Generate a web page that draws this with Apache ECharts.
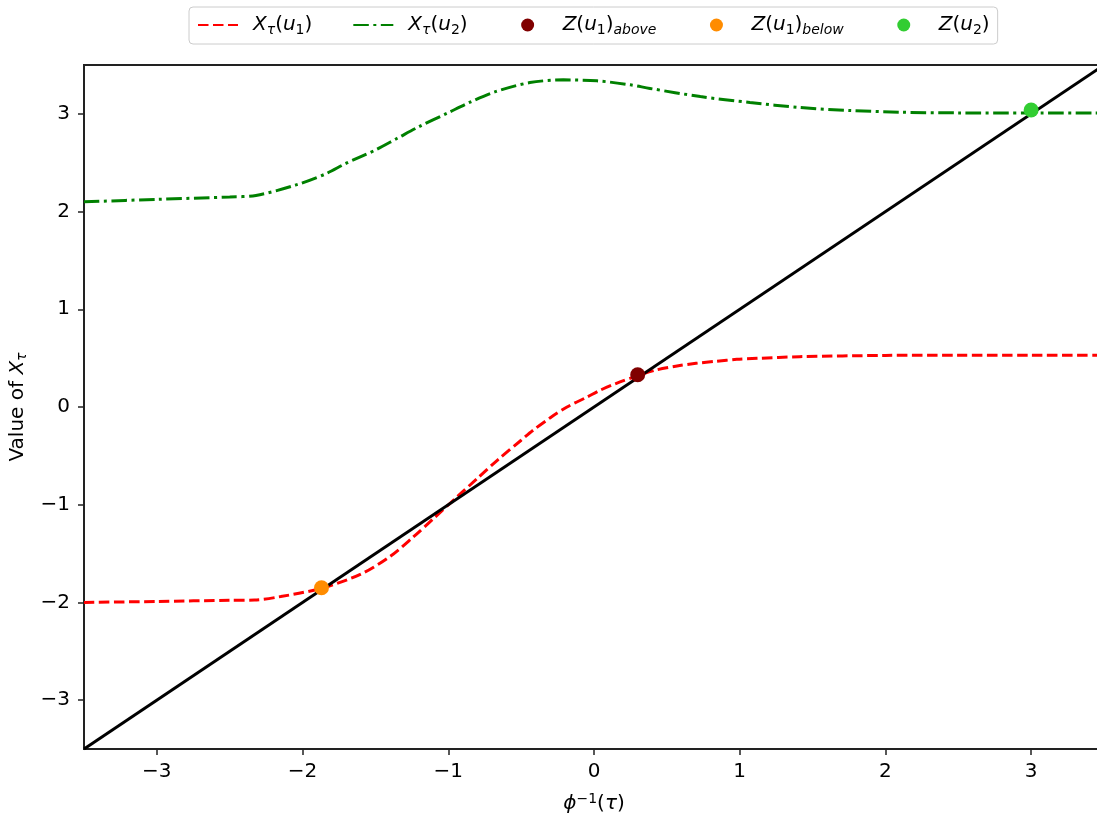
<!DOCTYPE html>
<html>
<head>
<meta charset="utf-8">
<script src="https://cdn.jsdelivr.net/npm/echarts@6/dist/echarts.min.js"></script>
<style>
html, body { margin: 0; padding: 0; background: #fff; }
#chart { width: 1097px; height: 818px; }
</style>
</head>
<body>
<div id="chart"></div>
<script>
// Quantile curve X_tau(u1)
const u1Tau = [-3.5, -3.0, -2.5, -2.33, -2.15, -1.87, -1.6, -1.4, -1.24, -1.1, -0.94, -0.8, -0.66, -0.5, -0.42, -0.3, -0.185, -0.05, 0.04, 0.15, 0.3, 0.43, 0.57, 0.70, 0.84, 0.98, 1.12, 1.41, 2.0, 2.5, 3.0, 3.5];
const u1Val = [-2.0, -1.99, -1.978, -1.975, -1.94, -1.855, -1.71, -1.53, -1.33, -1.14, -0.92, -0.73, -0.54, -0.34, -0.24, -0.11, 0.0, 0.10, 0.17, 0.24, 0.32, 0.38, 0.42, 0.447, 0.468, 0.488, 0.498, 0.515, 0.528, 0.53, 0.53, 0.53];

// Quantile curve X_tau(u2)
const u2Tau = [-3.5, -3.0, -2.5, -2.32, -2.05, -1.85, -1.7, -1.5, -1.35, -1.2, -1.01, -0.85, -0.67, -0.44, -0.21, 0.02, 0.25, 0.384, 0.73, 1.07, 1.41, 1.76, 2.1, 2.5, 3.0, 3.5];
const u2Val = [2.10, 2.125, 2.15, 2.165, 2.27, 2.38, 2.495, 2.63, 2.75, 2.87, 3.005, 3.12, 3.23, 3.32, 3.348, 3.338, 3.297, 3.26, 3.177, 3.116, 3.065, 3.034, 3.017, 3.01, 3.01, 3.01];

// Identity line
const diagX = [-3.5, 3.5];
const diagY = [-3.5, 3.5];

// Fixed points Z
const zAbove = [0.30, 0.33];
const zBelow = [-1.87, -1.85];
const zU2 = [3.0, 3.04];

// Tick values
const tickValues = [-3, -2, -1, 0, 1, 2, 3];

const zip = (a, b) => a.map((v, i) => [v, b[i]]);
const FONT = 'DejaVu Sans';
const fmtTick = v => String(v).replace('-', '\u2212');

// Legend marker: a dot centred in the 40x13 handle box
const dotIcon = 'path://M0,0 M40,13 M26.5,6.5 A6.5,6.5 0 1 1 13.5,6.5 A6.5,6.5 0 1 1 26.5,6.5 Z';

const rich = {
  n:    { fontFamily: FONT, fontSize: 20, color: '#000', lineHeight: 24 },
  i:    { fontFamily: FONT, fontSize: 20, color: '#000', lineHeight: 24, fontStyle: 'italic' },
  sub:  { fontFamily: FONT, fontSize: 14, color: '#000', lineHeight: 14, verticalAlign: 'bottom' },
  subi: { fontFamily: FONT, fontSize: 14, color: '#000', lineHeight: 14, verticalAlign: 'bottom', fontStyle: 'italic' },
  supi: { fontFamily: FONT, fontSize: 14, color: '#000', lineHeight: 14, verticalAlign: 'top' },
  sp:   { width: 10 }
};

const legendText = {
  'Xtau(u1)': '{sp| }{i|X}{subi|τ}{n|(}{i|u}{sub|1}{n|)}',
  'Xtau(u2)': '{sp| }{i|X}{subi|τ}{n|(}{i|u}{sub|2}{n|)}',
  'Z(u1)above': '{sp| }{i|Z}{n|(}{i|u}{sub|1}{n|)}{subi|above}',
  'Z(u1)below': '{sp| }{i|Z}{n|(}{i|u}{sub|1}{n|)}{subi|below}',
  'Z(u2)': '{sp| }{i|Z}{n|(}{i|u}{sub|2}{n|)}'
};

const chart = echarts.init(document.getElementById('chart'), null, { renderer: 'canvas' });

chart.setOption({
  animation: false,
  backgroundColor: '#fff',
  textStyle: { fontFamily: FONT },
  legend: {
    data: [
      { name: 'Xtau(u1)' },
      { name: 'Xtau(u2)' },
      { name: 'Z(u1)above', icon: dotIcon },
      { name: 'Z(u1)below', icon: dotIcon },
      { name: 'Z(u2)', icon: dotIcon }
    ],
    left: 189,
    top: 7,
    orient: 'horizontal',
    itemWidth: 40,
    itemHeight: 13,
    itemGap: 40,
    padding: [8, 8, 7, 8],
    borderColor: '#cccccc',
    borderWidth: 1,
    borderRadius: 4,
    backgroundColor: '#fff',
    formatter: name => legendText[name],
    textStyle: { rich: rich }
  },
  grid: {
    left: 84,
    top: 65,
    width: 1020,
    height: 684,
    show: true,
    borderColor: '#222',
    borderWidth: 2,
    containLabel: false,
    outerBoundsMode: 'none'
  },
  xAxis: {
    type: 'value',
    min: -3.5,
    max: 3.5,
    splitLine: { show: false },
    axisLine: { show: true, onZero: false, lineStyle: { color: '#222', width: 2 } },
    axisTick: { show: true, length: 6, customValues: tickValues, lineStyle: { color: '#222', width: 1.5 } },
    axisLabel: { customValues: tickValues, formatter: fmtTick, color: '#000', fontSize: 20, fontFamily: FONT, margin: 13 },
    name: '{i|ϕ}{supi|−1}{n|(}{i|τ}{n|)}',
    nameLocation: 'middle',
    nameGap: 43,
    nameTextStyle: { rich: rich }
  },
  yAxis: {
    type: 'value',
    min: -3.5,
    max: 3.5,
    splitLine: { show: false },
    axisLine: { show: true, onZero: false, lineStyle: { color: '#222', width: 2 } },
    axisTick: { show: true, length: 6, customValues: tickValues, lineStyle: { color: '#222', width: 1.5 } },
    axisLabel: { customValues: tickValues, formatter: fmtTick, color: '#000', fontSize: 20, fontFamily: FONT, margin: 14 },
    name: '{n|Value of }{i|X}{subi|τ}',
    nameLocation: 'middle',
    nameGap: 52,
    nameRotate: 90,
    nameTextStyle: { rich: rich }
  },
  series: [
    {
      name: 'Xtau(u1)',
      type: 'line',
      data: zip(u1Tau, u1Val),
      symbol: 'none',
      smooth: 0.3,
      lineStyle: { color: '#ff0000', width: 3, type: [10.5, 4.5] },
      itemStyle: { color: '#ff0000', opacity: 0 },
      z: 2
    },
    {
      name: 'Xtau(u2)',
      type: 'line',
      data: zip(u2Tau, u2Val),
      symbol: 'none',
      smooth: 0.3,
      lineStyle: { color: '#008000', width: 3, type: [15.5, 4.5, 3, 4.5] },
      itemStyle: { color: '#008000', opacity: 0 },
      z: 2
    },
    {
      name: 'diag',
      type: 'line',
      data: zip(diagX, diagY),
      symbol: 'none',
      lineStyle: { color: '#000', width: 3 },
      z: 3
    },
    {
      name: 'Z(u1)above',
      type: 'scatter',
      data: [zAbove],
      symbol: 'circle',
      symbolSize: 15,
      itemStyle: { color: '#800000', opacity: 1 },
      z: 5
    },
    {
      name: 'Z(u1)below',
      type: 'scatter',
      data: [zBelow],
      symbol: 'circle',
      symbolSize: 15,
      itemStyle: { color: '#ff8c00', opacity: 1 },
      z: 5
    },
    {
      name: 'Z(u2)',
      type: 'scatter',
      data: [zU2],
      symbol: 'circle',
      symbolSize: 15,
      itemStyle: { color: '#32cd32', opacity: 1 },
      z: 5
    }
  ]
});
</script>
</body>
</html>
